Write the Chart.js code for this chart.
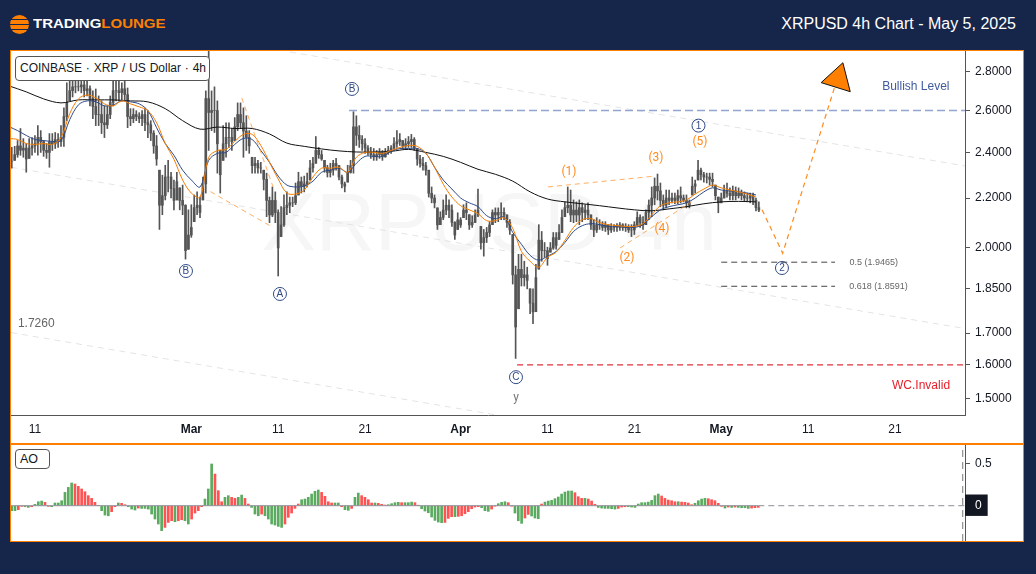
<!DOCTYPE html>
<html>
<head>
<meta charset="utf-8">
<title>XRPUSD 4h Chart</title>
<script src="https://cdn.jsdelivr.net/npm/chart.js@4/dist/chart.umd.js"></script>
<style>
html, body { margin: 0; padding: 0; background: #16264b; font-family: "Liberation Sans", Arial, sans-serif; }
#page { position: relative; width: 1036px; height: 574px; overflow: hidden; background: #16264b; }
#frame { position: absolute; left: 10px; top: 50px; width: 1012px; height: 490px; border: 1px solid #ff7f00; background: #fff; }
#sep { position: absolute; left: 10px; top: 443px; width: 1014px; height: 2px; background: #ff7f00; }
canvas { position: absolute; left: 11px; }
#mainChart { top: 51px; }
#aoChart { top: 445px; }
.tag { position: absolute; left: 15px; box-sizing: border-box; background: #fff; border: 1px solid #555; border-radius: 4px; color: #131722; font-size: 12px; padding-left: 4px; }
#symbol { top: 56px; width: 195px; height: 25px; line-height: 23px; white-space: nowrap; word-spacing: 0.5px; }
#aoTag { top: 449px; width: 35px; height: 20px; line-height: 18px; font-size: 12.5px; }
#title { position: absolute; right: 20px; top: 14px; color: #fff; font-size: 16px; line-height: 19px; }
#logoMark { position: absolute; left: 10px; top: 15px; width: 19px; height: 19px; border-radius: 50%;
  background: linear-gradient(#ff7f00 0 4px, #16264b 4px 5px, #ff7f00 5px 9px, #16264b 9px 10px, #ff7f00 10px 14px, #16264b 14px 15px, #ff7f00 15px); }
#logoText { position: absolute; left: 33px; top: 17px; font-size: 12.5px; line-height: 15px; font-weight: bold; color: #fff; white-space: nowrap; transform: scaleX(1.2); transform-origin: left center; }
#logoText span { color: #ff7f00; }
</style>
</head>
<body>
<div id="page">
  <div id="logoMark"></div>
  <div id="logoText">TRADING<span>LOUNGE</span></div>
  <div id="title">XRPUSD 4h Chart - May 5, 2025</div>
  <div id="frame"></div>
  <div id="sep"></div>
  <canvas id="mainChart" width="1012" height="392"></canvas>
  <canvas id="aoChart" width="1012" height="96"></canvas>
  <div id="symbol" class="tag">COINBASE · XRP / US Dollar · 4h</div>
  <div id="aoTag" class="tag">AO</div>
</div>
<script>
// x values are days counted from Feb 11
var firstBarDay = -2.67;
var barStep = 1 / 3;

var barHighs = [
  2.423,2.428,2.455,2.512,2.464,2.441,2.464,2.469,2.479,2.526,
  2.502,2.455,2.441,2.488,2.488,2.493,2.488,2.526,2.613,2.741,
  2.761,2.761,2.761,2.751,2.761,2.761,2.751,2.725,2.699,2.709,
  2.673,2.648,2.623,2.623,2.673,2.761,2.761,2.751,2.741,2.761,
  2.714,2.609,2.609,2.599,2.589,2.599,2.609,2.599,2.550,2.502,
  2.479,2.320,2.298,2.342,2.364,2.311,2.277,2.311,2.243,2.255,
  2.172,2.151,2.172,2.213,2.226,2.204,2.290,2.699,2.920,2.699,
  2.720,2.648,2.409,2.526,2.540,2.540,2.512,2.565,2.638,2.638,
  2.613,2.574,2.502,2.378,2.378,2.364,2.355,2.320,2.307,2.204,
  2.247,2.226,2.151,2.164,2.213,2.226,2.204,2.204,2.264,2.311,
  2.290,2.294,2.307,2.364,2.378,2.474,2.423,2.409,2.364,2.342,
  2.351,2.364,2.373,2.342,2.298,2.268,2.342,2.364,2.594,2.574,
  2.526,2.479,2.464,2.432,2.423,2.418,2.409,2.418,2.409,2.418,
  2.428,2.432,2.469,2.502,2.488,2.455,2.464,2.474,2.484,2.469,
  2.418,2.387,2.378,2.355,2.320,2.247,2.213,2.159,2.143,2.192,
  2.213,2.192,2.172,2.103,2.139,2.119,2.172,2.180,2.131,2.127,
  2.151,2.238,2.084,2.072,2.080,2.103,2.151,2.159,2.159,2.180,
  2.159,2.131,2.111,2.052,1.932,1.976,1.976,1.950,1.928,1.850,
  1.850,1.939,2.091,2.064,2.021,2.003,2.021,2.060,2.060,2.091,
  2.151,2.184,2.247,2.234,2.192,2.184,2.192,2.180,2.172,2.180,
  2.131,2.111,2.119,2.111,2.103,2.103,2.091,2.095,2.091,2.095,
  2.099,2.095,2.095,2.091,2.091,2.103,2.143,2.131,2.123,2.151,
  2.192,2.247,2.286,2.303,2.264,2.213,2.234,2.234,2.221,2.221,
  2.234,2.247,2.213,2.213,2.192,2.290,2.277,2.364,2.329,2.311,
  2.307,2.307,2.307,2.255,2.204,2.221,2.255,2.264,2.243,2.251,
  2.247,2.243,2.234,2.226,2.221,2.221,2.221,2.200,2.184
];

var barLows = [
  2.329,2.364,2.378,2.387,2.378,2.311,2.373,2.387,2.400,2.387,
  2.400,2.382,2.373,2.333,2.409,2.418,2.423,2.428,2.428,2.550,
  2.648,2.668,2.689,2.699,2.689,2.668,2.673,2.623,2.560,2.526,
  2.526,2.488,2.469,2.512,2.560,2.623,2.648,2.648,2.648,2.648,
  2.516,2.526,2.540,2.550,2.540,2.526,2.502,2.469,2.455,2.396,
  2.342,2.072,2.131,2.192,2.226,2.200,2.151,2.192,2.151,2.131,
  1.958,1.995,2.041,2.103,2.131,2.119,2.192,2.221,2.409,2.502,
  2.493,2.307,2.221,2.364,2.378,2.423,2.409,2.455,2.502,2.512,
  2.378,2.409,2.396,2.307,2.307,2.307,2.307,2.234,2.123,2.099,
  2.123,2.099,1.896,2.044,2.084,2.131,2.139,2.164,2.172,2.213,
  2.221,2.226,2.247,2.277,2.311,2.351,2.373,2.364,2.311,2.290,
  2.290,2.298,2.320,2.277,2.243,2.226,2.268,2.307,2.307,2.432,
  2.423,2.409,2.396,2.387,2.373,2.364,2.364,2.373,2.364,2.378,
  2.391,2.396,2.409,2.423,2.432,2.418,2.418,2.423,2.423,2.409,
  2.342,2.333,2.320,2.298,2.204,2.180,2.159,2.072,2.091,2.111,
  2.131,2.119,2.084,2.033,2.072,2.080,2.119,2.111,2.072,2.080,
  2.099,2.123,1.995,1.969,2.021,2.044,2.091,2.099,2.103,2.111,
  2.111,2.080,2.052,1.867,1.620,1.781,1.860,1.860,1.850,1.764,
  1.731,1.771,1.921,1.950,1.965,1.935,1.984,1.995,1.995,2.033,
  2.060,2.123,2.139,2.103,2.099,2.103,2.091,2.103,2.111,2.111,
  2.072,2.044,2.060,2.072,2.068,2.064,2.052,2.060,2.064,2.064,
  2.068,2.068,2.064,2.060,2.044,2.052,2.084,2.080,2.072,2.091,
  2.111,2.123,2.172,2.192,2.164,2.151,2.159,2.172,2.180,2.176,
  2.176,2.180,2.184,2.159,2.159,2.213,2.221,2.277,2.277,2.268,
  2.264,2.255,2.247,2.192,2.139,2.180,2.200,2.204,2.192,2.192,
  2.192,2.200,2.192,2.188,2.184,2.180,2.172,2.147,2.143
];

var barCloses = [
  2.36,2.39,2.43,2.41,2.42,2.37,2.42,2.43,2.44,2.47,
  2.45,2.41,2.40,2.45,2.44,2.46,2.45,2.47,2.57,2.64,
  2.70,2.72,2.72,2.72,2.73,2.70,2.71,2.66,2.62,2.58,
  2.58,2.54,2.53,2.58,2.64,2.70,2.70,2.69,2.71,2.68,
  2.57,2.56,2.58,2.57,2.56,2.58,2.54,2.53,2.49,2.43,
  2.37,2.17,2.21,2.29,2.29,2.24,2.19,2.27,2.19,2.17,
  1.99,2.05,2.08,2.16,2.17,2.14,2.26,2.66,2.59,2.60,
  2.60,2.44,2.30,2.44,2.47,2.47,2.45,2.52,2.58,2.54,
  2.50,2.47,2.43,2.34,2.35,2.33,2.33,2.28,2.19,2.13,
  2.19,2.14,2.00,2.09,2.16,2.17,2.18,2.18,2.21,2.27,
  2.25,2.26,2.27,2.33,2.35,2.41,2.39,2.37,2.33,2.31,
  2.32,2.35,2.34,2.29,2.26,2.25,2.31,2.34,2.52,2.48,
  2.46,2.44,2.42,2.40,2.39,2.38,2.39,2.40,2.38,2.40,
  2.41,2.42,2.44,2.45,2.46,2.43,2.44,2.45,2.46,2.42,
  2.37,2.35,2.34,2.32,2.22,2.20,2.18,2.09,2.12,2.15,
  2.17,2.15,2.10,2.05,2.11,2.09,2.15,2.14,2.09,2.10,
  2.13,2.15,2.02,2.04,2.06,2.09,2.14,2.13,2.14,2.14,
  2.13,2.10,2.07,1.90,1.72,1.92,1.89,1.90,1.88,1.80,
  1.77,1.89,2.03,1.99,1.99,1.96,2.00,2.04,2.01,2.06,
  2.12,2.16,2.17,2.13,2.15,2.13,2.16,2.14,2.15,2.13,
  2.09,2.07,2.09,2.09,2.08,2.09,2.07,2.08,2.08,2.08,
  2.09,2.08,2.08,2.07,2.07,2.09,2.12,2.10,2.09,2.14,
  2.17,2.20,2.25,2.23,2.19,2.17,2.20,2.19,2.20,2.19,
  2.21,2.20,2.19,2.18,2.17,2.25,2.26,2.32,2.30,2.29,
  2.29,2.28,2.27,2.21,2.18,2.20,2.23,2.22,2.21,2.23,
  2.21,2.22,2.21,2.20,2.20,2.21,2.19,2.16,2.15
];

// moving averages, one reading a day from day -3
var fastAvg = [
  2.465,2.460,2.441,2.437,2.441,2.437,2.469,2.584,2.658,2.678,2.663,2.633,2.623,2.648,2.633,2.618,2.599,2.540,2.441,2.369,
  2.277,2.221,2.204,2.378,2.409,2.414,2.451,2.484,2.484,2.432,2.355,2.281,2.221,2.217,2.234,2.290,2.329,2.329,2.333,2.311,
  2.378,2.400,2.400,2.396,2.409,2.423,2.432,2.428,2.396,2.333,2.259,2.204,2.168,2.151,2.135,2.107,2.107,2.119,2.076,1.987,
  1.950,1.928,1.965,1.984,2.029,2.080,2.111,2.115,2.099,2.091,2.087,2.084,2.084,2.095,2.131,2.168,2.180,2.184,2.192,2.217,
  2.238,2.255,2.243,2.234,2.226,2.217,2.204
];
var slowAvg = [
  2.521,2.502,2.479,2.460,2.455,2.451,2.455,2.555,2.628,2.648,2.643,2.623,2.628,2.648,2.643,2.633,2.599,2.516,2.441,2.387,
  2.320,2.277,2.247,2.364,2.396,2.400,2.437,2.465,2.460,2.409,2.355,2.294,2.255,2.247,2.251,2.272,2.311,2.320,2.329,2.311,
  2.351,2.382,2.382,2.382,2.405,2.418,2.418,2.418,2.396,2.333,2.277,2.238,2.200,2.180,2.164,2.127,2.115,2.123,2.060,2.014,
  1.972,1.954,1.969,1.987,2.021,2.064,2.087,2.095,2.091,2.084,2.084,2.080,2.080,2.091,2.123,2.151,2.164,2.172,2.180,2.200,
  2.226,2.243,2.234,2.230,2.226,2.221,2.213
];
// long average, one reading every two days from day -3
var longAvg = [
  2.725,2.694,2.658,2.638,2.653,2.653,2.653,2.648,2.643,2.609,2.550,2.509,2.519,2.512,2.512,2.486,2.443,2.428,2.416,2.407,
  2.402,2.402,2.405,2.414,2.400,2.382,2.355,2.324,2.302,2.272,2.226,2.196,2.184,2.176,2.168,2.159,2.151,2.147,2.155,2.164,
  2.176,2.184,2.186,2.184
];

// awesome oscillator
var aoStart = -2.686;
var aoStep = 0.3837;
var aoValues = [
  -0.059,-0.059,-0.047,-0.008,-0.012,-0.020,-0.012,0.016,0.047,0.055,0.040,-0.008,-0.012,0.032,0.032,0.059,0.158,0.217,0.269,0.257,
  0.229,0.198,0.166,0.119,0.087,0.040,0,-0.059,-0.111,-0.119,-0.071,-0.012,0.032,0.028,0.012,-0.012,-0.040,-0.051,-0.028,-0.032,
  -0.032,-0.040,-0.099,-0.158,-0.217,-0.296,-0.257,-0.198,-0.178,-0.190,-0.178,-0.166,-0.178,-0.217,-0.158,-0.087,-0.059,-0.012,0.079,0.198,
  0.494,0.375,0.178,0.047,0.099,0.119,0.099,0.087,0.099,0.126,0.087,0.020,-0.020,-0.099,-0.119,-0.099,-0.119,-0.158,-0.217,-0.229,
  -0.245,-0.257,-0.217,-0.138,-0.087,-0.032,0.020,0.071,0.079,0.099,0.138,0.170,0.186,0.158,0.111,0.047,0.032,0.032,0.032,-0.012,
  -0.047,-0.055,-0.032,0.099,0.150,0.119,0.099,0.071,0.032,0.032,0.028,0.016,0.008,0.012,0.024,0.036,0.040,
  0.036,0.036,0.036,0.043,0.036,0.004,-0.036,-0.063,-0.083,-0.134,-0.174,-0.194,-0.201,-0.198,-0.150,-0.130,-0.130,-0.126,-0.119,-0.095,
  -0.071,-0.036,-0.016,-0.012,-0.024,-0.059,-0.067,-0.040,-0.004,0.024,0.040,0.047,0.036,-0.004,-0.087,-0.178,-0.209,-0.146,-0.103,-0.122,
  -0.146,-0.154,0.020,0.043,0.055,0.063,0.083,0.103,0.138,0.162,0.174,0.174,0.154,0.107,0.087,0.087,0.079,0.055,0.016,-0.020,
  -0.028,-0.032,-0.032,-0.036,-0.040,-0.032,-0.016,-0.012,-0.012,-0.016,-0.020,0.020,0.036,0.036,0.043,0.063,0.119,0.138,0.115,0.087,
  0.067,0.059,0.047,0.047,0.043,0.040,0.032,0.012,0.028,0.059,0.079,0.087,0.083,0.071,0.059,0.028,-0.008,-0.028,-0.016,-0.020,
  -0.016,-0.020,-0.024,-0.024,-0.032,-0.028,-0.024,-0.020
];

var priceTicks = [2.8, 2.6, 2.4, 2.2, 2.0, 1.85, 1.7, 1.6, 1.5];
var aoTicks = [0.5, 0];
var dayTicks = [0, 18, 28, 38, 49, 59, 69, 79, 89, 99];
var dayLabels = ['11', 'Mar', '11', '21', 'Apr', '11', '21', 'May', '11', '21'];

// drawn trend lines and levels, as [day, price] pairs
var channelLines = [
  [[29.35, 2.907], [107.06, 2.339]],
  [[-2.76, 2.333], [107.06, 1.715]],
  [[-2.76, 1.702], [52.95, 1.455]]
];
var waveLines = [
  [[20.2, 2.227], [27.4, 2.080]],
  [[23.8, 2.663], [27.4, 2.248]],
  [[59.05, 2.247], [71.1, 2.293]],
  [[67.35, 2.0], [75.6, 2.184]]
];
var forecastLine = [[83.7, 2.151], [86.07, 1.980], [92.1, 2.725]];
var arrowHead = [[93.0, 2.848], [90.5, 2.742], [93.85, 2.695], [93.0, 2.848]];
var bullishLevel = [[36.15, 2.6], [107.06, 2.6]];
var invalidLevel = [[55.5, 1.6], [107.06, 1.6]];
var fibLevels = [
  [[79, 1.9465], [92.1, 1.9465]],
  [[79, 1.8591], [92.1, 1.8591]]
];

var plainLabels = [
  { text: 'Bullish Level', day: 101.4, price: 2.72, color: '#3f5b9e', font: '12px "Liberation Sans"' },
  { text: 'WC.Invalid', day: 102, price: 1.539, color: '#e8202a', font: '12px "Liberation Sans"' },
  { text: '1.7260', day: 0.15, price: 1.73, color: '#666', font: '12px "Liberation Sans"' },
  { text: 'y', day: 55.37, price: 1.502, color: '#777', font: '12px "Roboto"' },
  { text: '0.5 (1.9465)', day: 96.55, price: 1.9465, color: '#666', font: '9px "Liberation Sans"' },
  { text: '0.618 (1.8591)', day: 97.1, price: 1.8591, color: '#666', font: '9px "Liberation Sans"' },
  { text: '(1)', day: 61.47, price: 2.311, color: '#ff8a1c', font: '12px "Roboto"' },
  { text: '(3)', day: 71.49, price: 2.373, color: '#ff8a1c', font: '12px "Roboto"' },
  { text: '(5)', day: 76.55, price: 2.448, color: '#ff8a1c', font: '12px "Roboto"' },
  { text: '(4)', day: 72.18, price: 2.072, color: '#ff8a1c', font: '12px "Roboto"' },
  { text: '(2)', day: 68.15, price: 1.963, color: '#ff8a1c', font: '12px "Roboto"' }
];
var circledLabels = [
  { text: 'B', day: 17.38, price: 1.914 },
  { text: 'A', day: 28.2, price: 1.832 },
  { text: 'B', day: 36.49, price: 2.709 },
  { text: 'C', day: 55.37, price: 1.563 },
  { text: '1', day: 76.38, price: 2.526 },
  { text: '2', day: 85.99, price: 1.925 }
];

var xMin = -2.76, xMax = 107.06;

function pairsToPoints(pairs) {
  return pairs.map(function(p) { return { x: p[0], y: p[1] }; });
}
function seriesToPoints(values, start, step) {
  return values.map(function(v, i) { return { x: start + i * step, y: v }; });
}
// keep the plot area exactly where the axis sizes put it
function noPadding(scale) {
  scale.paddingTop = scale.paddingBottom = scale.paddingLeft = scale.paddingRight = 0;
}

var wickPoints = barHighs.map(function(h, i) {
  return { x: firstBarDay + i * barStep, y: [barLows[i], h] };
});
var bodyPoints = barCloses.map(function(c, i) {
  var open = i === 0 ? c : Math.min(barHighs[i], Math.max(barLows[i], barCloses[i - 1]));
  return { x: firstBarDay + i * barStep, y: [Math.min(open, c), Math.max(open, c)] };
});

function lineSet(points, color, width, dash, order) {
  return { type: 'line', data: points, borderColor: color, borderWidth: width, borderDash: dash || [],
           pointRadius: 0, fill: false, tension: 0, order: order };
}

var mainSets = [
  { type: 'bar', data: wickPoints, backgroundColor: '#555', barThickness: 1, grouped: false, order: 6 },
  { type: 'bar', data: bodyPoints, backgroundColor: '#555', barThickness: 2, grouped: false, order: 6 }
];
channelLines.forEach(function(l) { mainSets.push(lineSet(pairsToPoints(l), '#e4e4e4', 1, [6, 5], 8)); });
waveLines.forEach(function(l) { mainSets.push(lineSet(pairsToPoints(l), 'rgba(255,140,30,0.7)', 1, [5, 4], 3)); });
fibLevels.forEach(function(l) { mainSets.push(lineSet(pairsToPoints(l), '#444', 1, [6, 4], 3)); });
mainSets.push(lineSet(pairsToPoints(bullishLevel), '#93a5d1', 1.5, [8, 4], 3));
mainSets.push(lineSet(pairsToPoints(invalidLevel), '#e0303a', 1.2, [6, 4], 3));
mainSets.push(lineSet(pairsToPoints(forecastLine), '#ff8a1c', 1.2, [5, 4], 3));
var blackLine = lineSet(seriesToPoints(longAvg, -3, 2), '#111', 1, null, 5);
var blueLine = lineSet(seriesToPoints(slowAvg, -3, 1), '#2f4a86', 1, null, 4);
var orangeLine = lineSet(seriesToPoints(fastAvg, -3, 1), '#f57c00', 1, null, 2);
blackLine.tension = blueLine.tension = orangeLine.tension = 0.35;
mainSets.push(blackLine, blueLine, orangeLine);
mainSets.push({ type: 'line', data: pairsToPoints(arrowHead), borderColor: '#111', borderWidth: 1, pointRadius: 0,
                backgroundColor: '#ff7f00', fill: 'shape', tension: 0, order: 1 });

// faint symbol text behind the marks, and the wave labels on top
var mainLabels = {
  id: 'mainLabels',
  beforeDatasetsDraw: function(chart) {
    var ctx = chart.ctx;
    ctx.save();
    ctx.font = '82px "Liberation Sans"';
    ctx.fillStyle = '#f6f6f7';
    ctx.textAlign = 'center';
    ctx.textBaseline = 'alphabetic';
    ctx.fillText('XRPUSD 4h', 478, 199);
    ctx.restore();
  },
  afterDatasetsDraw: function(chart) {
    var ctx = chart.ctx, xs = chart.scales.x, ys = chart.scales.y;
    ctx.save();
    ctx.textAlign = 'center';
    ctx.textBaseline = 'middle';
    plainLabels.forEach(function(l) {
      ctx.font = l.font;
      ctx.fillStyle = l.color;
      ctx.fillText(l.text, xs.getPixelForValue(l.day), ys.getPixelForValue(l.price));
    });
    circledLabels.forEach(function(l) {
      var px = xs.getPixelForValue(l.day), py = ys.getPixelForValue(l.price);
      ctx.beginPath();
      ctx.arc(px, py, 6.5, 0, Math.PI * 2);
      ctx.strokeStyle = '#2f4a86';
      ctx.lineWidth = 1;
      ctx.stroke();
      ctx.font = '10px "Liberation Sans"';
      ctx.fillStyle = '#2f4a86';
      ctx.fillText(l.text, px, py + 0.5);
    });
    ctx.restore();
  }
};

new Chart(document.getElementById('mainChart').getContext('2d'), {
  type: 'bar',
  data: { datasets: mainSets },
  plugins: [mainLabels],
  options: {
    responsive: false,
    animation: false,
    layout: { padding: 0 },
    plugins: { legend: { display: false }, tooltip: { enabled: false } },
    scales: {
      x: {
        type: 'linear', offset: false, min: xMin, max: xMax,
        afterBuildTicks: function(scale) { scale.ticks = dayTicks.map(function(d) { return { value: d }; }); },
        afterFit: function(scale) { scale.height = 28; noPadding(scale); },
        grid: { drawOnChartArea: false, drawTicks: false, offset: false },
        border: { color: '#555' },
        ticks: {
          autoSkip: false, maxRotation: 0, padding: 7, color: '#131722',
          callback: function(v) { return dayLabels[dayTicks.indexOf(v)]; },
          font: function(c) {
            var label = dayLabels[dayTicks.indexOf(c.tick && c.tick.value)];
            return { family: '"Liberation Sans"', size: 12, weight: /\d/.test(label || '1') ? 'normal' : 'bold' };
          }
        }
      },
      y: {
        type: 'logarithmic', position: 'right', min: 1.4542, max: 2.9125,
        afterBuildTicks: function(scale) { scale.ticks = priceTicks.map(function(p) { return { value: p }; }); },
        afterFit: function(scale) { scale.width = 58; noPadding(scale); },
        grid: { drawOnChartArea: false, tickLength: 5, color: '#555' },
        border: { color: '#555' },
        ticks: {
          padding: 5, color: '#131722', font: { family: '"Liberation Sans"', size: 12 },
          callback: function(v) { return Number(v).toFixed(4); }
        }
      }
    }
  }
});

var aoPoints = aoValues.map(function(v, i) { return { x: aoStart + i * aoStep, y: v }; });
var aoLastDay = aoStart + (aoValues.length - 1) * aoStep;

new Chart(document.getElementById('aoChart').getContext('2d'), {
  type: 'bar',
  data: {
    datasets: [
      {
        type: 'bar', data: aoPoints, barThickness: 2, grouped: false, order: 2,
        backgroundColor: function(c) {
          var i = c.dataIndex;
          if (i === 0) return '#5aab5f';
          return Math.abs(aoValues[i]) >= Math.abs(aoValues[i - 1]) ? '#5aab5f' : '#ff5252';
        }
      },
      lineSet(pairsToPoints([[xMin, 0], [aoLastDay, 0]]), '#8d8d96', 1, null, 1),
      lineSet(pairsToPoints([[aoLastDay, 0], [xMax, 0]]), '#8d8d96', 1, [6, 4], 1),
      lineSet(pairsToPoints([[106.8, -0.418], [106.8, 0.719]]), '#777', 1, [7, 5], 1)
    ]
  },
  options: {
    responsive: false,
    animation: false,
    layout: { padding: 0 },
    plugins: { legend: { display: false }, tooltip: { enabled: false } },
    scales: {
      x: { type: 'linear', offset: false, min: xMin, max: xMax, display: false, grid: { offset: false } },
      y: {
        position: 'right', min: -0.418, max: 0.719,
        afterBuildTicks: function(scale) { scale.ticks = aoTicks.map(function(v) { return { value: v }; }); },
        afterFit: function(scale) { scale.width = 58; noPadding(scale); },
        grid: { drawOnChartArea: false, tickLength: 5, color: '#555' },
        border: { color: '#555' },
        ticks: {
          padding: 5, font: { family: '"Liberation Sans"', size: 12 },
          color: function(c) { return c.tick.value === 0 ? '#fff' : '#131722'; },
          showLabelBackdrop: function(c) { return c.tick.value === 0; },
          backdropColor: '#131722',
          backdropPadding: { left: 10, right: 6, top: 4, bottom: 3 },
          callback: function(v) { return v === 0 ? '0' : String(v); }
        }
      }
    }
  }
});
</script>
</body>
</html>
